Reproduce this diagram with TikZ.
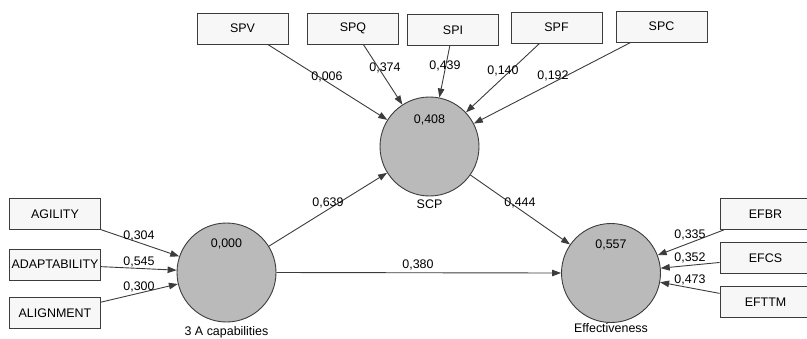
\documentclass[tikz,border=0pt]{standalone}
\usepackage{fontspec}
\setmainfont{Liberation Sans}
\usetikzlibrary{arrows.meta}
\definecolor{boxfill}{RGB}{247,247,247}
\definecolor{circfill}{RGB}{186,186,186}
\definecolor{edgecol}{RGB}{60,60,60}
\begin{document}
\begin{tikzpicture}[x=1bp,y=-1bp,
  ind/.style={draw=edgecol,fill=boxfill,line width=0.9bp,minimum width=91bp,minimum height=31bp,inner sep=0pt,font=\fontsize{12.5}{14}\selectfont},
  lat/.style={draw=edgecol,fill=circfill,line width=0.9bp,circle,minimum size=99bp,inner sep=0pt},
  val/.style={font=\fontsize{12.5}{14}\selectfont,inner sep=0pt},
  conn/.style={draw=edgecol,line width=0.9bp,-{Triangle[length=9bp,width=6.5bp]}}]
\useasboundingbox (0,0) rectangle (807,338);
\begin{scope}
\clip (0,0) rectangle (807,338);
% latent variables
\node[lat] (scp) at (429.5,146.5) {};
\node[lat] (tac) at (226.5,272.5) {};
\node[lat] (eff) at (611,273) {};
\node[val] (scpv) at (429.5,120) {0,408};
\node[val] (tacv) at (226.5,244) {0,000};
\node[val] (effv) at (611,245) {0,557};
\node[val] (scpn) at (429.5,204) {SCP};
\node[val] (tacn) at (226.5,332) {3 A capabilities};
\node[val] (effn) at (611,328) {Effectiveness};
% indicators
\node[ind] (spv) at (242.5,28.5) {SPV};
\node[ind] (spq) at (353,28.5) {SPQ};
\node[ind] (spi) at (453,30) {SPI};
\node[ind] (spf) at (556.5,27.5) {SPF};
\node[ind] (spc) at (661.5,26.5) {SPC};
\node[ind] (agi) at (55,214) {AGILITY};
\node[ind] (ada) at (55,264.5) {ADAPTABILITY};
\node[ind] (ali) at (55,313) {ALIGNMENT};
\node[ind] (efbr) at (765.5,214) {EFBR};
\node[ind] (efcs) at (765.5,258) {EFCS};
\node[ind] (eft) at (765.5,302) {EFTTM};
% connectors
\draw[conn] (spv) -- (scp);
\draw[conn] (spq) -- (scp);
\draw[conn] (spi) -- (scp);
\draw[conn] (spf) -- (scp);
\draw[conn] (spc) -- (scp);
\draw[conn] (agi) -- (tac);
\draw[conn] (ada) -- (tac);
\draw[conn] (ali) -- (tac);
\draw[conn] (efbr) -- (eff);
\draw[conn] (efcs) -- (eff);
\draw[conn] (eft) -- (eff);
\draw[conn] (tac) -- (scp);
\draw[conn] (scp) -- (eff);
\draw[conn] (tac.east) -- (eff.west);
% path coefficients
\node[val] (l1) at (327,77) {0,006};
\node[val] (l2) at (385,68) {0,374};
\node[val] (l3) at (445,66) {0,439};
\node[val] (l4) at (503,71) {0,140};
\node[val] (l5) at (553,76) {0,192};
\node[val] (l6) at (328,203) {0,639};
\node[val] (l7) at (520,203) {0,444};
\node[val] (l8) at (418,265) {0,380};
\node[val] (l9) at (139,236) {0,304};
\node[val] (l10) at (139,262) {0,545};
\node[val] (l11) at (139,287) {0,300};
\node[val] (l12) at (690,235) {0,335};
\node[val] (l13) at (690,258) {0,352};
\node[val] (l14) at (690,280) {0,473};
\end{scope}
\end{tikzpicture}
\end{document}
